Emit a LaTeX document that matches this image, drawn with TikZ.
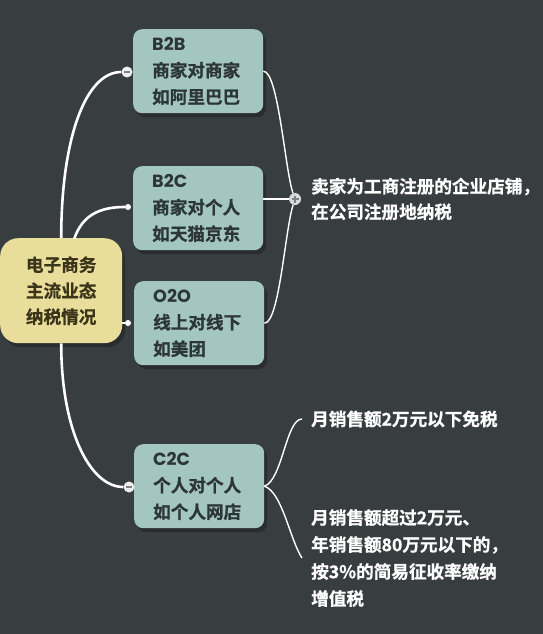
\documentclass[tikz,border=0pt]{standalone}
\usepackage{fontspec}
\setmainfont{Noto Sans CJK SC}[BoldFont={Noto Sans CJK SC Bold}, BoldFeatures={FakeBold=0.8}]
\newfontfamily\lat{Poppins}
\usetikzlibrary{calc,shadows}
\definecolor{bg}{HTML}{383D3F}
\definecolor{boxc}{HTML}{A4C6C0}
\definecolor{rootc}{HTML}{E9DD9B}
\definecolor{boxtxt}{HTML}{2C3636}
\definecolor{roottxt}{HTML}{3A3418}
\definecolor{shade}{HTML}{262A2C}
\definecolor{knobc}{HTML}{EEEEEE}
\begin{document}
\begin{tikzpicture}[x=1pt,y=-1pt,
  cat/.style={rounded corners=9pt, fill=boxc, text=boxtxt, minimum width=130pt,
    minimum height=84pt, text width=92pt, align=left, inner sep=0pt,
    font=\fontsize{17.6}{26.5}\selectfont\bfseries, anchor=north west,
    drop shadow={shadow xshift=3pt, shadow yshift=-4pt, fill=shade, opacity=0.8}},
  rootbox/.style={rounded corners=18pt, fill=rootc, text=roottxt, minimum width=122pt,
    minimum height=105pt, align=center, inner sep=0pt,
    font=\fontsize{17.6}{26}\selectfont\bfseries, anchor=north west,
    drop shadow={shadow xshift=3pt, shadow yshift=-4pt, fill=shade, opacity=0.8}},
  leaf/.style={text=white, align=left, anchor=west, inner xsep=9pt, inner ysep=0pt,
    font=\fontsize{17.6}{25.5}\selectfont\bfseries},
  trunk/.style={draw=white, line width=2.6pt},
  twig/.style={draw=white, line width=1.4pt},
  bigknob/.style={circle, fill=knobc, inner sep=0pt, minimum size=11pt,
    path picture={\draw[gray, line width=1.3pt]
      ([xshift=2.5pt]path picture bounding box.west) --
      ([xshift=-2.5pt]path picture bounding box.east);}},
  dot/.style={circle, fill=white, inner sep=0pt, minimum size=6pt},
  junction/.style={circle, fill=white!85!black, inner sep=0pt, minimum size=12pt,
    path picture={\draw[gray, line width=1.2pt]
      ([xshift=2.5pt]path picture bounding box.west) --
      ([xshift=-2.5pt]path picture bounding box.east)
      ([yshift=-2.5pt]path picture bounding box.north) --
      ([yshift=2.5pt]path picture bounding box.south);}}
]
\fill[bg] (0,0) rectangle (543,634);
\useasboundingbox (0,0) rectangle (543,634);

% boxes
\node[rootbox] (root) at (0,238) {电子商务\\主流业态\\纳税情况};
\node[cat] (b2b) at (133,29) {{\lat B2B}\\商家对商家\\如阿里巴巴};
\node[cat] (b2c) at (133,166) {{\lat B2C}\\商家对个人\\如天猫京东};
\node[cat] (o2o) at (134,281) {{\lat O2O}\\线上对线下\\如美团};
\node[cat] (c2c) at (134,444) {{\lat C2C}\\个人对个人\\如个人网店};

% leaf texts
\node[leaf] (t1) at (302,199) {卖家为工商注册的企业店铺，\\在公司注册地纳税};
\node[leaf] (t2) at (302,419) {月销售额2万元以下免税};
\node[leaf, font=\fontsize{17.6}{27}\selectfont\bfseries] (t3) at (302,558)
  {月销售额超过2万元、\\年销售额80万元以下的，\\按3\%的简易征收率缴纳\\增值税};

% knobs
\node[bigknob] (k1) at (127,72) {};
\node[dot] (k2) at (128,207) {};
\node[dot] (k3) at (128,323) {};
\node[bigknob] (k4) at (129,487) {};
\node[junction] (j) at (295,199) {};

% trunks
\draw[trunk] (root.north) .. controls +(0,-98) and +(-42,0) .. (k1);
\draw[trunk] ($(root.north)+(13,1)$) .. controls +(8,-24) and +(-28,0) .. (k2);
\draw[trunk] (k3) -- (k3 -| root.east);
\draw[trunk] (root.south) .. controls +(0,87) and +(-39,0) .. (k4);

% twigs
\draw[twig] (b2b.east) .. controls +(15,0) and +(-10,-29) .. (j);
\draw[twig] (j) -- (j -| b2c.east);
\draw[twig] (o2o.east) .. controls +(15,0) and +(-10,31) .. (j);
\draw[twig] (c2c.east) .. controls +(18,-6) and +(-16,0) .. (t2.west);
\draw[twig] (c2c.east) .. controls +(18,6) and +(-12,-18) .. (t3.west);
\end{tikzpicture}
\end{document}
